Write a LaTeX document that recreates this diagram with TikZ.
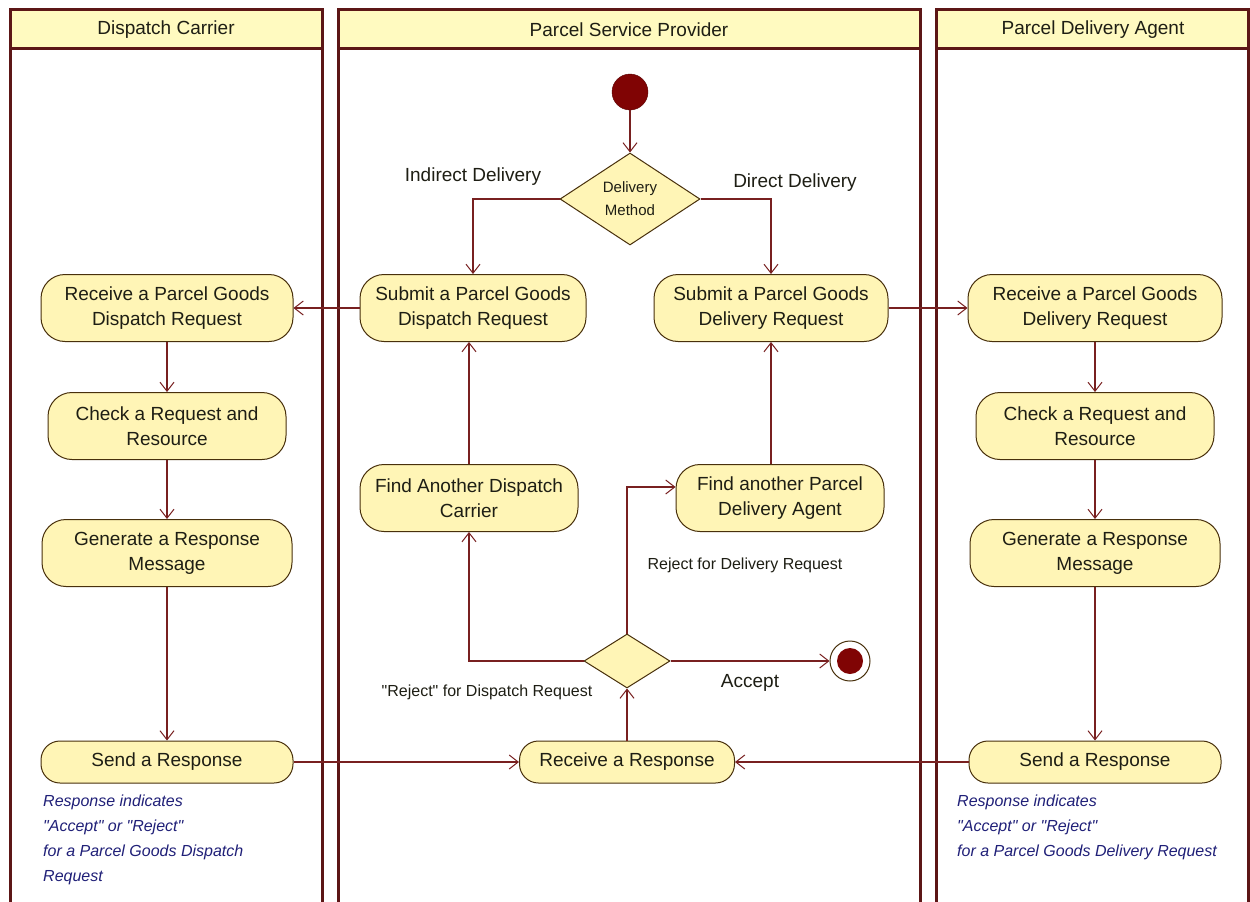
\documentclass[tikz,border=0pt]{standalone}
\usepackage{fontspec}
\setmainfont{Liberation Sans}[Ligatures=TeXOff]
\usetikzlibrary{arrows.meta,shapes.geometric}

\definecolor{lanecol}{RGB}{92,22,22}
\definecolor{headfill}{RGB}{255,250,192}
\definecolor{nodefill}{RGB}{255,245,182}
\definecolor{nodeline}{RGB}{72,48,12}
\definecolor{flowcol}{RGB}{120,32,32}
\definecolor{dotcol}{RGB}{128,4,4}
\definecolor{notecol}{RGB}{32,32,120}
\definecolor{txtcol}{RGB}{30,30,20}

\newcommand\actfont{\fontsize{19}{25}\selectfont}
\newcommand\lblfont{\fontsize{16}{20}\selectfont}
\newcommand\notefont{\fontsize{16}{25}\selectfont\itshape}
\newcommand\dq{\symbol{34}}

\begin{document}
\begin{tikzpicture}[x=1pt,y=-1pt,
  lanebox/.style={draw=lanecol,line width=3pt},
  headbox/.style={draw=lanecol,fill=headfill,line width=3pt},
  headtext/.style={font=\actfont,text=txtcol},
  act/.style={draw=nodeline,fill=nodefill,line width=1pt,rounded corners=24pt,
    minimum height=67pt,inner sep=0pt,align=center,font=\actfont,text=txtcol},
  actone/.style={act,rounded corners=19pt,minimum height=42pt},
  decision/.style={diamond,draw=nodeline,fill=nodefill,line width=1pt,inner sep=0pt,
    align=center,text=txtcol},
  flow/.style={draw=flowcol,line width=1.3pt,-{Straight Barb[length=9pt,width=14pt,line width=1pt]}},
  lbl/.style={font=\actfont,text=txtcol},
  smalllbl/.style={font=\lblfont,text=txtcol},
  note/.style={font=\notefont,text=notecol,align=left,anchor=north west,inner sep=0pt}
]
\useasboundingbox[fill=white] (0,0) rectangle (1250,902);

% swimlanes
\draw[lanebox] (10,48) -- (10,905) (322,48) -- (322,905);
\draw[headbox] (10,9) rectangle (322,48);
\node[headtext] (laneA) at (166,30) {Dispatch Carrier};

\draw[lanebox] (338,48) -- (338,905) (920,48) -- (920,905);
\draw[headbox] (338,9) rectangle (920,48);
\node[headtext] (laneB) at (629,30) {Parcel Service Provider};

\draw[lanebox] (936,48) -- (936,905) (1248,48) -- (1248,905);
\draw[headbox] (936,9) rectangle (1248,48);
\node[headtext] (laneC) at (1093,30) {Parcel Delivery Agent};

% control nodes
\node[circle,fill=dotcol,draw=dotcol!70!black,minimum size=36pt,inner sep=0pt] (start) at (630,92) {};
\node[decision,minimum width=140pt,minimum height=92pt,font=\fontsize{15}{23}\selectfont] (method) at (630,199) {Delivery\\Method};
\node[decision,minimum width=86pt,minimum height=54pt] (answer) at (627,661) {};
\node[circle,draw=nodeline,fill=white,line width=1pt,minimum size=40pt,inner sep=0pt] (stop) at (850,661) {};
\node[circle,fill=dotcol,minimum size=26pt,inner sep=0pt] (stopdot) at (stop) {};

% provider activities
\node[act,minimum width=226pt] (subD) at (473,308) {Submit a Parcel Goods\\Dispatch Request};
\node[act,minimum width=234pt] (subP) at (771,308) {Submit a Parcel Goods\\Delivery Request};
\node[act,minimum width=218pt] (findC) at (469,498) {Find Another Dispatch\\Carrier};
\node[act,minimum width=208pt] (findA) at (780,498) {Find another Parcel\\Delivery Agent};
\node[actone,minimum width=215pt] (recvR) at (627,762) {Receive a Response};

% carrier activities
\node[act,minimum width=252pt] (recvD) at (167,308) {Receive a Parcel Goods\\Dispatch Request};
\node[act,minimum width=238pt] (checkD) at (167,426) {Check a Request and\\Resource};
\node[act,minimum width=250pt] (genD) at (167,553) {Generate a Response\\Message};
\node[actone,minimum width=252pt] (sendD) at (167,762) {Send a Response};

% agent activities
\node[act,minimum width=254pt] (recvP) at (1095,308) {Receive a Parcel Goods\\Delivery Request};
\node[act,minimum width=238pt] (checkP) at (1095,426) {Check a Request and\\Resource};
\node[act,minimum width=250pt] (genP) at (1095,553) {Generate a Response\\Message};
\node[actone,minimum width=252pt] (sendP) at (1095,762) {Send a Response};

% notes
\node[note] (noteD) at (43,795) {Response indicates\\\dq Accept\dq{} or \dq Reject\dq\\for a Parcel Goods Dispatch\\Request};
\node[note] (noteP) at (957,795) {Response indicates\\\dq Accept\dq{} or \dq Reject\dq\\for a Parcel Goods Delivery Request};

% flows
\draw[flow] (start) -- (method);
\draw[flow] (method.west) -| (subD.north);
\draw[flow] (method.east) -| (subP.north);
\node[lbl] (indirect) at (473,177) {Indirect Delivery};
\node[lbl] (direct) at (795,183) {Direct Delivery};

\draw[flow] (subD.west) -- (recvD.east);
\draw[flow] (subP.east) -- (recvP.west);
\draw[flow] (recvD) -- (checkD);
\draw[flow] (checkD) -- (genD);
\draw[flow] (genD) -- (sendD);
\draw[flow] (recvP) -- (checkP);
\draw[flow] (checkP) -- (genP);
\draw[flow] (genP) -- (sendP);

\draw[flow] (sendD.east) -- (recvR.west);
\draw[flow] (sendP.west) -- (recvR.east);
\draw[flow] (recvR.north) -- (answer.south);

\draw[flow] (answer.west) -| (findC.south);
\draw[flow] (answer.north) |- ([yshift=11pt]findA.west);
\draw[flow] (answer.east) -- (stop.west);
\draw[flow] (findC.north) -- (findC.north |- subD.south);
\draw[flow] (findA.north -| subP.south) -- (subP.south);

\node[smalllbl] (rejA) at (745,565) {Reject for Delivery Request};
\node[smalllbl] (rejD) at (487,692) {\dq Reject\dq{} for Dispatch Request};
\node[lbl] (accept) at (750,683) {Accept};
\end{tikzpicture}
\end{document}
